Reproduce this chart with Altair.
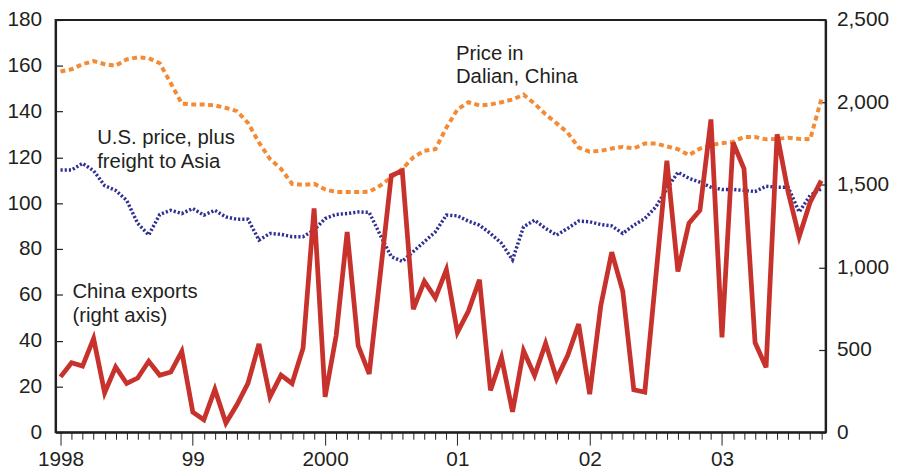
import altair as alt
import pandas as pd

# ---- data (monthly, Jan 1998 .. Oct 2003) ----
months = list(range(70))
year_ticks = [0, 12, 24, 36, 48, 60]
year_labels = ["1998", "99", "2000", "01", "02", "03"]

dalian = [157.5, 158.5, 160.7, 162.1, 160.7, 160.0, 162.8, 163.7, 163.3, 161.1,
          152.4, 143.5, 143.1, 143.1, 142.7, 141.6, 140.2, 135.1, 126.5, 119.3,
          115.0, 108.5, 108.0, 108.5, 106.0, 104.9, 104.9, 104.9, 105.0, 107.7,
          111.3, 115.0, 120.0, 122.9, 123.6, 133.0, 140.9, 144.1, 142.7, 143.1,
          144.1, 145.3, 147.4, 143.5, 138.8, 134.9, 130.8, 124.3, 122.5, 122.9,
          123.9, 124.6, 123.9, 126.1, 126.1, 124.8, 123.6, 121.0, 123.9, 125.4,
          126.2, 126.8, 128.9, 128.9, 127.9, 128.1, 128.6, 128.1, 127.9, 145.3]

us_price = [114.5, 114.5, 117.4, 114.2, 107.7, 105.6, 101.3, 91.2, 86.1, 95.1,
            96.9, 95.5, 97.7, 94.8, 96.9, 94.0, 93.0, 93.0, 83.9, 86.8,
            86.4, 85.4, 85.4, 88.3, 93.3, 95.1, 95.5, 96.2, 96.0, 86.1,
            76.7, 74.6, 78.9, 83.2, 87.5, 94.8, 94.5, 92.2, 90.4, 86.8,
            82.5, 75.3, 89.7, 92.6, 89.0, 86.1, 89.0, 92.2, 91.9, 90.7,
            90.1, 86.8, 90.4, 93.3, 98.4, 106.3, 113.5, 110.9, 109.2, 107.0,
            106.0, 106.0, 105.6, 105.1, 107.4, 107.0, 107.0, 96.2, 103.4, 106.3]

china_exports = [336, 422, 401, 569, 240, 396, 296, 329, 431, 346,
                 365, 490, 122, 76, 260, 56, 167, 296, 536, 215,
                 346, 296, 510, 1358, 215, 585, 1215, 525, 354, 956,
                 1556, 1586, 746, 915, 815, 986, 606, 735, 925, 254,
                 454, 124, 494, 344, 539, 325, 465, 656, 231, 765,
                 1092, 856, 258, 244, 944, 1647, 975, 1267, 1346, 1897,
                 575, 1757, 1597, 544, 394, 1807, 1457, 1186, 1396, 1526]

left_ticks = [0, 20, 40, 60, 80, 100, 120, 140, 160, 180]
right_ticks = [0, 500, 1000, 1500, 2000, 2500]

label_dalian = "Price in\nDalian, China"
label_us = "U.S. price, plus\nfreight to Asia"
label_exports = "China exports\n(right axis)"

df = pd.DataFrame({"m": months, "dalian": dalian, "us": us_price,
                   "exports": china_exports})

INK = "#231f20"
FONT = "Liberation Sans"

label_expr = " : ".join(f"datum.value == {t} ? '{l}'" for t, l in
                        zip(year_ticks, year_labels)) + " : ''"

x_scale = alt.Scale(domain=[-0.45, 69.4], nice=False, zero=False)
x_axis = alt.Axis(values=months, labelExpr=label_expr, labelOverlap=False,
                  labelFlush=False, grid=False, title=None,
                  tickSize={"condition": {"test": "datum.value % 12 === 0",
                                          "value": 13}, "value": 7},
                  tickColor=INK, tickWidth=1, labelPadding=4,
                  labelFontSize=21, labelColor=INK, labelFont=FONT,
                  domainColor=INK, domainWidth=2)

left_scale = alt.Scale(domain=[0, 180], nice=False)
left_axis = alt.Axis(values=left_ticks, orient="left", title=None, ticks=False,
                     labelPadding=14, labelFontSize=21, labelColor=INK,
                     labelFont=FONT, domainColor=INK, domainWidth=2,
                     grid=True, gridDash=[7, 3000], gridColor=INK, gridWidth=1.2,
                     gridOpacity=1)

right_scale = alt.Scale(domain=[0, 2500], nice=False)
right_axis = alt.Axis(values=right_ticks, orient="right", title=None,
                      labelExpr="format(datum.value, ',d')",
                      ticks=False, labelPadding=11, labelFontSize=21,
                      labelColor=INK, labelFont=FONT, domainColor=INK,
                      domainWidth=2, grid=True, gridDash=[7, 3000],
                      gridColor=INK, gridWidth=1.2, gridOpacity=1)

X = alt.X("m:Q", scale=x_scale, axis=x_axis)

orange = alt.Chart(df).mark_line(color="#F58A35", strokeWidth=4,
                                 strokeDash=[5, 3.5]).encode(
    x=X, y=alt.Y("dalian:Q", scale=left_scale, axis=left_axis))
blue = alt.Chart(df).mark_line(color="#2E3192", strokeWidth=3.5,
                               strokeDash=[2.2, 2]).encode(
    x=X, y=alt.Y("us:Q", scale=left_scale, axis=left_axis))
left_layer = alt.layer(orange, blue)

red = alt.Chart(df).mark_line(color="#C8322D", strokeWidth=4.8).encode(
    x=X, y=alt.Y("exports:Q", scale=right_scale, axis=right_axis))


def annotation(txt, px, py):
    return alt.Chart(pd.DataFrame({"t": [txt]})).mark_text(
        align="left", baseline="alphabetic", lineBreak="\n", lineHeight=24,
        fontSize=20.5, font=FONT, color=INK).encode(
        text="t:N", x=alt.value(px), y=alt.value(py))


chart = alt.layer(
    left_layer, red,
    annotation(label_dalian, 404, 40),
    annotation(label_us, 42, 125),
    annotation(label_exports, 17, 281),
).resolve_scale(y="independent").properties(
    width=777, height=416,
    autosize=alt.AutoSizeParams(type="none"),
    padding={"left": 48, "top": 10, "right": 69, "bottom": 40},
).configure_view(stroke=INK, strokeWidth=2)

chart.save("out.html", embed_options={"renderer": "svg", "actions": False})
